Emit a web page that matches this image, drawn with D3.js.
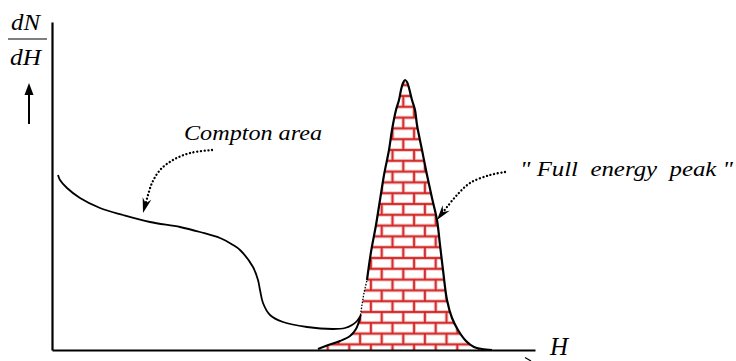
<!DOCTYPE html>
<html>
<head>
<meta charset="utf-8">
<script src="https://cdn.jsdelivr.net/npm/d3@7"></script>
<style>
  body { margin: 0; background: #fff; }
</style>
</head>
<body>
<div id="chart"></div>
<script>
// spectrum: [pulse height H, dN/dH]
const compton = [
  [6, 175], [8, 170], [15, 162], [28, 152], [48, 142], [71, 135], [98, 128],
  [128, 123], [148, 118], [168, 112], [181, 105], [188, 100], [201, 83],
  [206, 70], [208, 60], [211, 47], [218, 35], [231, 28], [255, 23], [281, 21],
  [293, 22], [300, 25], [305, 29], [309, 35]
];
const peakLeft = [
  [266, 1], [275, 4.5], [288, 9], [298, 14], [304, 21], [308, 32], [310, 45],
  [312, 57], [315, 70], [319, 98], [324, 125], [328, 150], [332, 175],
  [337, 200], [340, 220], [344, 240], [347, 250], [349, 260], [351, 267], [353, 270]
];
const peakRight = [
  [355, 268], [357, 262], [360, 250], [363, 240], [365, 225], [370, 200],
  [375, 175], [380, 152], [385, 130], [388, 105], [391, 80], [395, 50],
  [400, 32], [406, 20], [414, 9], [422, 3], [430, 1], [440, 0]
];
// annotation leaders (last point is the arrow tip)
const comptonLeader = [[160, 200], [138, 197], [121, 190], [108, 180], [100, 167], [96, 155], [91, 137]];
const peakLeader = [[453, 178], [438, 175], [418, 167], [405, 155], [395, 143], [385, 130]];
const labels = { compton: "Compton area", peak: "\" Full  energy  peak \"", xTitle: "H" };

const width = 736, height = 361;

let svg = d3.select("#chart")
  .append("svg")
  .attr("width", width)
  .attr("height", height);

let xScale = d3.scaleLinear().domain([0, 483]).range([52, 535]);
let yScale = d3.scaleLinear().domain([0, 328]).range([350, 22]);

// brick pattern
const bw = 21.6, bh = 10.8;
let pat = svg.append("defs").append("pattern")
  .attr("id", "brick")
  .attr("patternUnits", "userSpaceOnUse")
  .attr("x", 3.7).attr("y", 9.6)
  .attr("width", bw).attr("height", bh * 2);
pat.append("rect").attr("width", bw).attr("height", bh * 2).attr("fill", "#fff");
const brickLines = [
  [0, 0, bw, 0], [0, bh, bw, bh], [0, bh * 2, bw, bh * 2],
  [bw / 2, 0, bw / 2, bh], [0, bh, 0, bh * 2], [bw, bh, bw, bh * 2]
];
[["#f1b9b9", 3.6], ["#d21c1c", 1.7]].forEach(([c, w]) => {
  pat.selectAll(null).data(brickLines).enter().append("line")
    .attr("x1", d => d[0]).attr("y1", d => d[1])
    .attr("x2", d => d[2]).attr("y2", d => d[3])
    .attr("stroke", c).attr("stroke-width", w);
});

const line = d3.line()
  .x(d => xScale(d[0]))
  .y(d => yScale(d[1]))
  .curve(d3.curveCatmullRom);

const peak = peakLeft.concat(peakRight);

// peak fill
svg.append("path")
  .datum(peak.concat([[peak[peak.length - 1][0], 0], [peak[0][0], 0]]))
  .attr("d", line)
  .attr("fill", "url(#brick)");

// peak outline: lower left tail, dotted bit where compton joins, then the rest
svg.append("path").datum(peakLeft.slice(0, 6)).attr("d", line)
  .attr("fill", "none").attr("stroke", "#000").attr("stroke-width", 2);
svg.append("path").datum(peakLeft.slice(5, 9)).attr("d", line)
  .attr("fill", "none").attr("stroke", "#000").attr("stroke-width", 1.3)
  .attr("stroke-dasharray", "1.5,1.5");
svg.append("path").datum(peak.slice(8)).attr("d", line)
  .attr("fill", "none").attr("stroke", "#000").attr("stroke-width", 2.2);

// compton continuum
svg.append("path").datum(compton).attr("d", line)
  .attr("fill", "none").attr("stroke", "#000").attr("stroke-width", 1.8);

// axes
const xAxis = d3.axisBottom(xScale).tickValues([]).tickSizeOuter(0);
const yAxis = d3.axisLeft(yScale).tickValues([]).tickSizeOuter(0);
svg.append("g").attr("transform", `translate(0,${yScale(0)})`).call(xAxis)
  .select(".domain").attr("stroke-width", 2.2);
svg.append("g").attr("transform", `translate(${xScale(0)},0)`).call(yAxis)
  .select(".domain").attr("stroke-width", 2.2);
// bit of the x arrow below the axis
svg.append("line")
  .attr("x1", xScale(473)).attr("y1", 357.5)
  .attr("x2", xScale(479)).attr("y2", 361)
  .attr("stroke", "#000").attr("stroke-width", 1.2);

// dotted leaders with stealth heads
function leader(pts) {
  const tip = pts[pts.length - 1], prev = pts[pts.length - 2];
  const tx = xScale(tip[0]), ty = yScale(tip[1]);
  const px = xScale(prev[0]), py = yScale(prev[1]);
  const len = Math.hypot(tx - px, ty - py);
  const ux = (tx - px) / len, uy = (ty - py) / len;
  const L = 15, W = 4.5, N = 10;
  const bx = tx - ux * L, by = ty - uy * L;
  svg.append("path")
    .datum(pts.slice(0, -1).concat([[xScale.invert(tx - ux * N), yScale.invert(ty - uy * N)]]))
    .attr("d", line)
    .attr("fill", "none").attr("stroke", "#000").attr("stroke-width", 2.3)
    .attr("stroke-linecap", "round").attr("stroke-dasharray", "0.1,3.6");
  svg.append("path")
    .attr("d", `M${tx},${ty}L${bx - uy * W},${by + ux * W}L${tx - ux * N},${ty - uy * N}L${bx + uy * W},${by - ux * W}Z`)
    .attr("fill", "#000");
}
leader(comptonLeader);
leader(peakLeader);

// texts
function label(x, y, size, str, len) {
  let t = svg.append("text")
    .attr("x", x).attr("y", y)
    .attr("font-family", "Liberation Serif")
    .attr("font-style", "italic")
    .attr("font-size", size)
    .attr("fill", "#000")
    .attr("xml:space", "preserve")
    .style("white-space", "pre")
    .text(str);
  if (len) t.attr("textLength", len).attr("lengthAdjust", "spacingAndGlyphs");
  return t;
}
label(184, 140, 22, labels.compton, 138);
label(520, 176, 22, labels.peak, 213);
label(550, 355, 25, labels.xTitle);

// y title dN/dH with arrow
label(11, 30, 24, "dN", 29);
svg.append("line").attr("x1", 8).attr("x2", 47).attr("y1", 39).attr("y2", 39)
  .attr("stroke", "#000").attr("stroke-width", 1.2);
label(10, 65, 24, "dH", 31);
svg.append("line").attr("x1", 29).attr("x2", 29).attr("y1", 124).attr("y2", 92)
  .attr("stroke", "#000").attr("stroke-width", 2);
svg.append("path").attr("d", "M29,83L33.5,95L24.5,95Z").attr("fill", "#000");
</script>
</body>
</html>
